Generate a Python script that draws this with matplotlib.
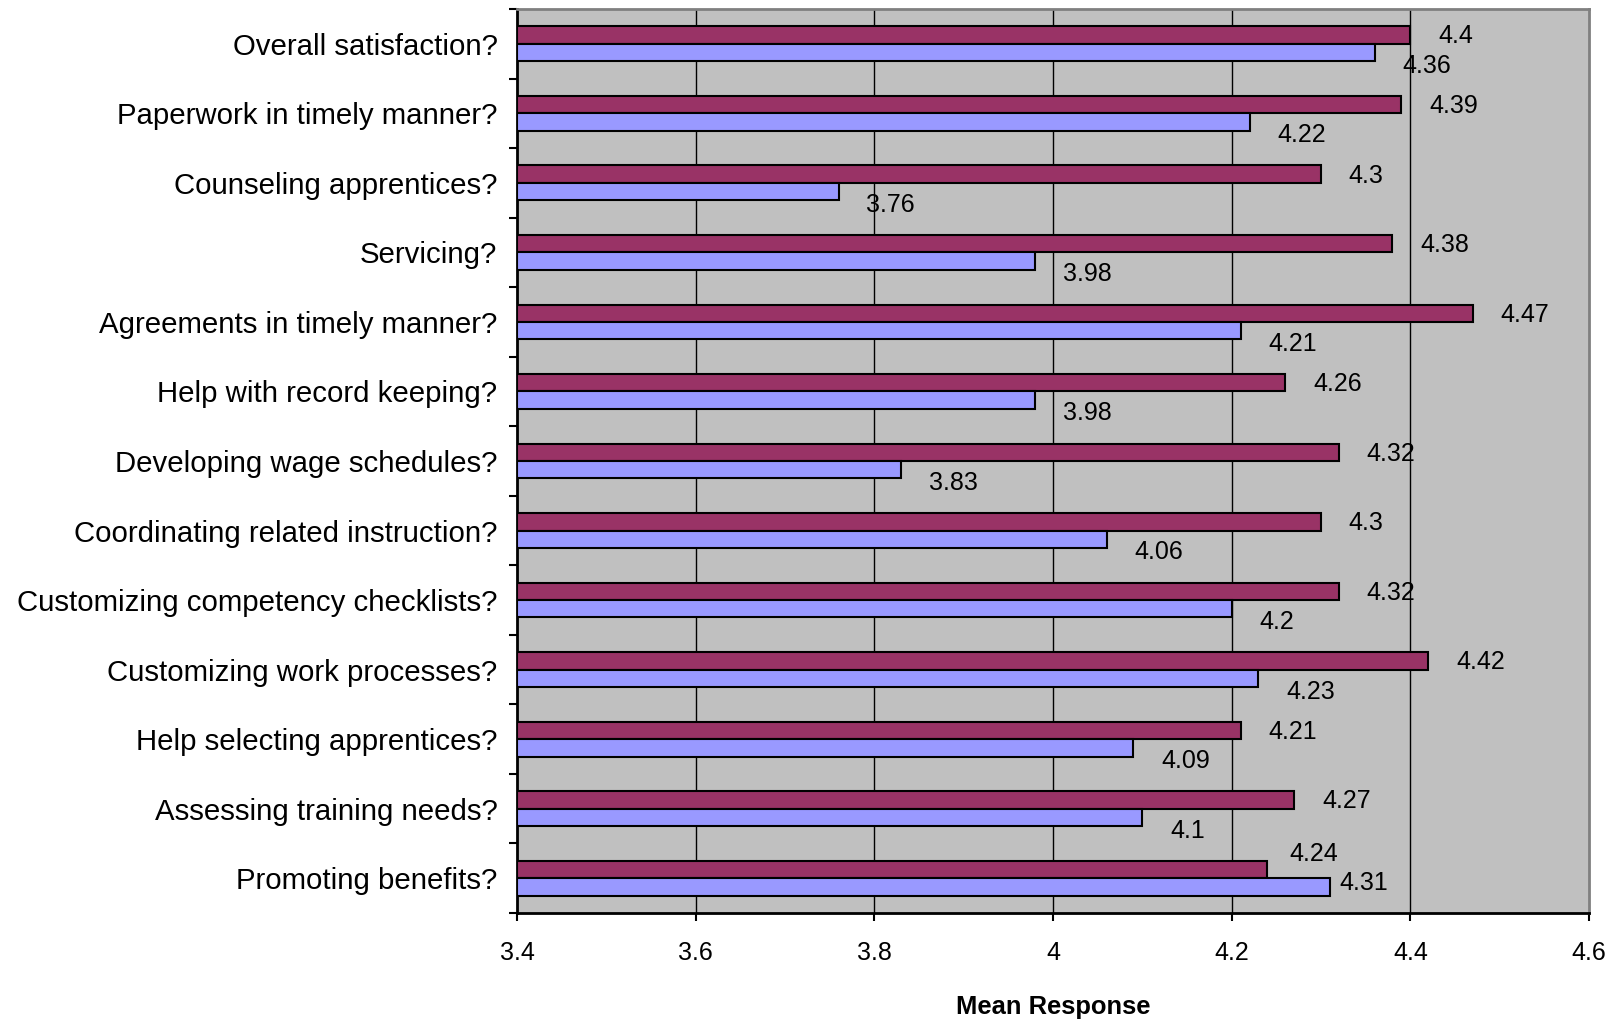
import matplotlib
matplotlib.use("Agg")
import matplotlib.pyplot as plt
import numpy as np

categories = [
    "Overall satisfaction?",
    "Paperwork in timely manner?",
    "Counseling apprentices?",
    "Servicing?",
    "Agreements in timely manner?",
    "Help with record keeping?",
    "Developing wage schedules?",
    "Coordinating related instruction?",
    "Customizing competency checklists?",
    "Customizing work processes?",
    "Help selecting apprentices?",
    "Assessing training needs?",
    "Promoting benefits?",
]
series_a = [4.4, 4.39, 4.3, 4.38, 4.47, 4.26, 4.32, 4.3, 4.32, 4.42, 4.21, 4.27, 4.24]
series_b = [4.36, 4.22, 3.76, 3.98, 4.21, 3.98, 3.83, 4.06, 4.2, 4.23, 4.09, 4.1, 4.31]
x_ticks = [3.4, 3.6, 3.8, 4.0, 4.2, 4.4, 4.6]
x_tick_labels = ["3.4", "3.6", "3.8", "4", "4.2", "4.4", "4.6"]
x_label = "Mean Response"

plt.rcParams['font.family'] = ['Liberation Sans', 'DejaVu Sans']

fig = plt.figure(figsize=(16.21, 10.21), dpi=100)
ax = fig.add_axes([517/1621, 1 - 913/1021, (1589-517)/1621, (913-9)/1021])

base = 3.4
n = len(categories)
y = np.arange(n)
h = 0.25
ax.set_facecolor("#C0C0C0")

# grid
for xt in x_ticks[1:-1]:
    ax.axvline(xt, color="black", lw=1.0, zorder=1)

ax.barh(y - h/2, np.array(series_a) - base, left=base, height=h,
        color="#993366", edgecolor="black", linewidth=1.5, zorder=3)
ax.barh(y + h/2, np.array(series_b) - base, left=base, height=h,
        color="#9999FF", edgecolor="black", linewidth=1.5, zorder=3)

for i, (a, b) in enumerate(zip(series_a, series_b)):
    if b > a:
        # avoid the longer lower bar: lift the upper label, keep lower one level
        off_a, off_b = (16, 11), (7, 3)
    else:
        off_a, off_b = (20, -1), (20, -9.5)
    ax.annotate(f"{a:g}", xy=(a, i - h/2), xytext=off_a, textcoords="offset points",
                ha="left", va="center", fontsize=18, zorder=4)
    ax.annotate(f"{b:g}", xy=(b, i + h/2), xytext=off_b, textcoords="offset points",
                ha="left", va="center", fontsize=18, zorder=4)

ax.set_xlim(3.4, 4.6)
ax.set_ylim(n - 0.5, -0.5)
ax.set_xticks(x_ticks)
ax.set_xticklabels(x_tick_labels, fontsize=18)
ax.tick_params(axis="x", direction="out", length=6, width=1.5, pad=14)

ax.set_yticks(np.arange(-0.5, n, 1.0))
ax.set_yticklabels([])
ax.tick_params(axis="y", which="major", direction="out", length=6, width=1.5)
ax.set_yticks(y, minor=True)
ax.set_yticklabels(categories, minor=True, fontsize=21.2)
ax.tick_params(axis="y", which="minor", length=0, pad=14)

ax.set_xlabel(x_label, fontsize=18.4, fontweight="bold", labelpad=22)

for side in ["left", "bottom"]:
    ax.spines[side].set_color("black")
    ax.spines[side].set_linewidth(2)
for side in ["top", "right"]:
    ax.spines[side].set_color("#808080")
    ax.spines[side].set_linewidth(2)

fig.savefig("out.png", dpi=100, facecolor="white")
